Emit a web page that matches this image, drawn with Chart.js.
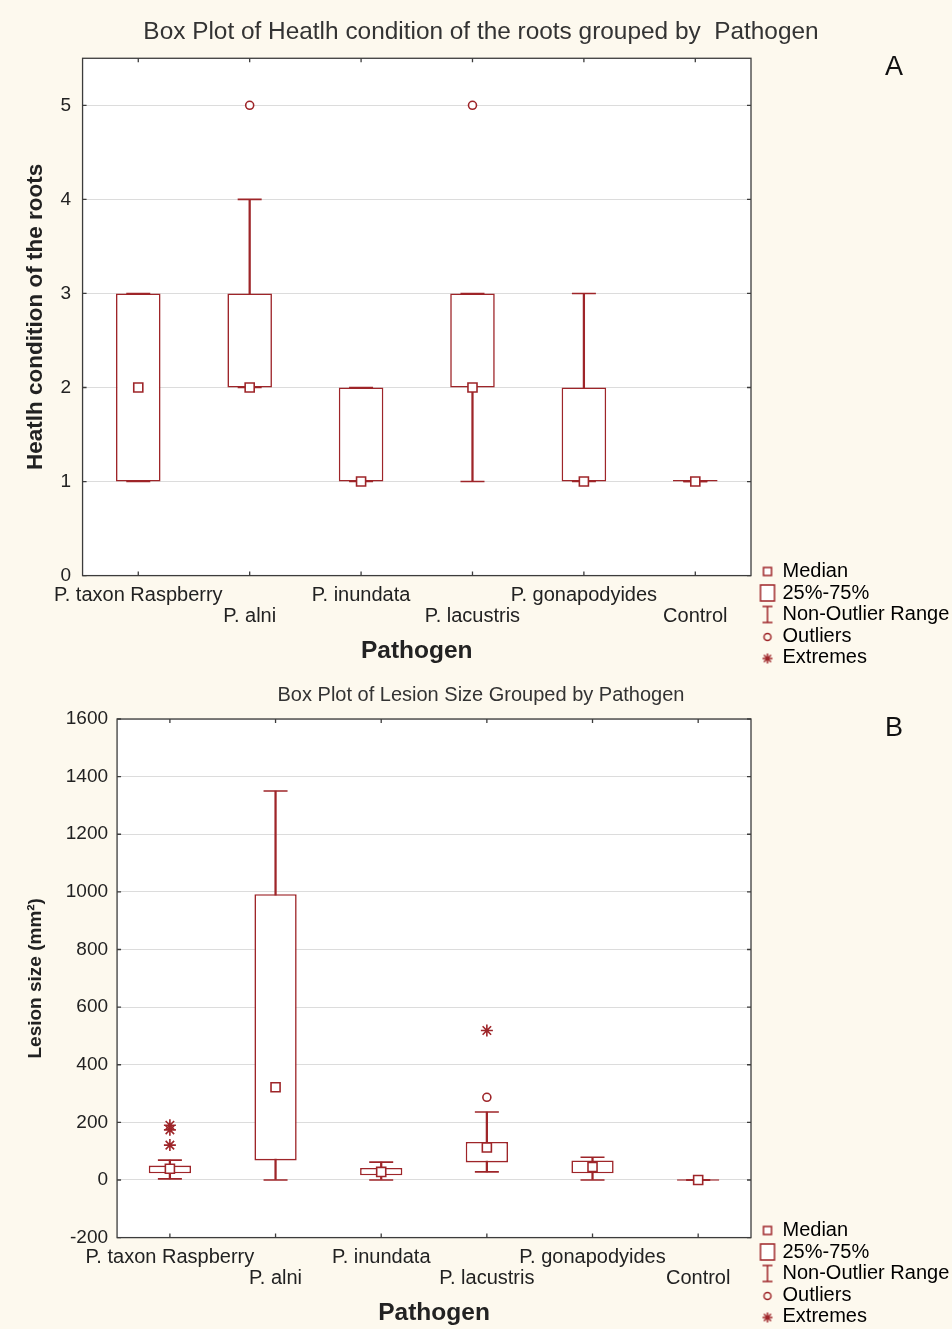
<!DOCTYPE html>
<html>
<head>
<meta charset="utf-8">
<title>Box plots by pathogen</title>
<script src="https://cdn.jsdelivr.net/npm/chart.js@4.4.0/dist/chart.umd.min.js"></script>
<style>
  body { margin: 0; background: #fdf9ee; width: 952px; height: 1329px; position: relative; overflow: hidden;
         font-family: "Liberation Sans", Arial, sans-serif; }
  .panel { position: absolute; left: 0; width: 952px; }
  #panelA { top: 0; height: 670px; }
  #panelB { top: 670px; height: 659px; }
  .tag { position: absolute; font-size: 27px; color: #111; }
</style>
</head>
<body>
<div class="panel" id="panelA"><canvas id="chartA"></canvas></div>
<div class="panel" id="panelB"><canvas id="chartB"></canvas></div>
<div class="tag" style="left:885px; top:51px;">A</div>
<div class="tag" style="left:885px; top:712px;">B</div>
<script>
var pathogens = ["P. taxon Raspberry", "P. alni", "P. inundata", "P. lacustris", "P. gonapodyides", "Control"];

// A - health condition of the roots
var rootLow      = [1, 2, 1, 1, 1, 1];
var rootQ1       = [1, 2, 1, 2, 1, 1];
var rootMedian   = [2, 2, 1, 2, 1, 1];
var rootQ3       = [3, 3, 2, 3, 2, 1];
var rootHigh     = [3, 4, 2, 3, 3, 1];
var rootOutliers = [[], [5], [], [5], [], []];
var rootExtremes = [[], [], [], [], [], []];
var rootTicks    = [0, 1, 2, 3, 4, 5];

// B - lesion size (mm2)
var lesionLow      = [4, 0, 0, 28, 0, 0];
var lesionQ1       = [23, 68, 16, 61, 23, 0];
var lesionMedian   = [39, 322, 28, 113, 45, 0];
var lesionQ3       = [50, 992, 42, 132, 68, 0];
var lesionHigh     = [69, 1350, 62, 236, 79, 0];
var lesionOutliers = [[], [], [], [287], [], []];
var lesionExtremes = [[190, 174, 121], [], [], [519], [], []];
var lesionTicks    = [-200, 0, 200, 400, 600, 800, 1000, 1200, 1400, 1600];

Chart.defaults.font.family = "'Liberation Sans', Arial, Helvetica, sans-serif";
Chart.defaults.color = '#222';

var RED = '#9e2529';

// legend icons, shifted right inside a wider canvas
function makeIcon(kind) {
  var c = document.createElement('canvas');
  c.width = 28; c.height = 20;
  var g = c.getContext('2d');
  g.translate(11, 0);
  g.strokeStyle = RED; g.fillStyle = '#fff'; g.lineWidth = 1.5;
  if (kind == 'median') {
    g.fillRect(4, 6, 8, 8); g.strokeRect(4, 6, 8, 8);
  } else if (kind == 'box') {
    g.fillRect(1, 2, 14, 16); g.strokeRect(1, 2, 14, 16);
  } else if (kind == 'range') {
    g.beginPath();
    g.moveTo(3, 2); g.lineTo(13, 2);
    g.moveTo(8, 2); g.lineTo(8, 18);
    g.moveTo(3, 18); g.lineTo(13, 18);
    g.stroke();
  } else if (kind == 'outlier') {
    g.beginPath(); g.arc(8, 11, 3.5, 0, Math.PI * 2); g.stroke();
  } else {
    g.beginPath();
    for (var k = 0; k < 4; k++) {
      var a = k * Math.PI / 4;
      g.moveTo(8 + Math.cos(a) * 5, 11 + Math.sin(a) * 5);
      g.lineTo(8 - Math.cos(a) * 5, 11 - Math.sin(a) * 5);
    }
    g.stroke();
  }
  return c;
}

var legendItems = [
  ['Median', makeIcon('median')],
  ['25%-75%', makeIcon('box')],
  ['Non-Outlier Range', makeIcon('range')],
  ['Outliers', makeIcon('outlier')],
  ['Extremes', makeIcon('extreme')]
];

// white plot area, dark frame and small inward ticks like the original
var framePlugin = {
  id: 'frame',
  beforeDraw: function (chart) {
    var a = chart.chartArea, g = chart.ctx;
    g.save();
    g.fillStyle = '#fff';
    g.fillRect(a.left, a.top, a.right - a.left, a.bottom - a.top);
    g.restore();
  },
  afterDatasetsDraw: function (chart) {
    var a = chart.chartArea, g = chart.ctx, xs = chart.scales.x, ys = chart.scales.y;
    g.save();
    g.strokeStyle = '#3c3c3c';
    g.lineWidth = 1.3;
    g.strokeRect(a.left, a.top, a.right - a.left, a.bottom - a.top);
    g.beginPath();
    xs.ticks.forEach(function (t, i) {
      var px = xs.getPixelForTick(i);
      g.moveTo(px, a.top); g.lineTo(px, a.top + 4);
      g.moveTo(px, a.bottom); g.lineTo(px, a.bottom - 4);
    });
    ys.ticks.forEach(function (t, i) {
      var py = ys.getPixelForTick(i);
      g.moveTo(a.left, py); g.lineTo(a.left + 4, py);
      g.moveTo(a.right, py); g.lineTo(a.right - 4, py);
    });
    g.stroke();
    g.restore();
  }
};

function points(lists) {
  var out = [];
  lists.forEach(function (vals, i) {
    vals.forEach(function (v) { out.push({ x: pathogens[i], y: v }); });
  });
  return out;
}

function boxChart(id, s) {
  var pointSet = function (data, style, radius, order) {
    return {
      type: 'line', data: data, showLine: false, order: order,
      pointStyle: style, pointRadius: radius, pointHoverRadius: radius,
      pointBackgroundColor: '#fff', pointBorderColor: RED, pointBorderWidth: 1.6
    };
  };
  return new Chart(document.getElementById(id), {
    type: 'bar',
    data: {
      labels: pathogens,
      datasets: [
        { // whiskers
          data: pathogens.map(function (p, i) { return [s.low[i], s.high[i]]; }),
          backgroundColor: RED, borderWidth: 0, barThickness: 1.6, grouped: false, order: 3
        },
        { // 25%-75% boxes
          data: pathogens.map(function (p, i) { return [s.q1[i], s.q3[i]]; }),
          backgroundColor: '#fff', borderColor: RED, borderWidth: 1.6, borderSkipped: false,
          barPercentage: 0.4, categoryPercentage: 1, minBarLength: 1.6, grouped: false, order: 2
        },
        pointSet(s.low, 'line', 12, 1),
        pointSet(s.high, 'line', 12, 1),
        pointSet(s.median, 'rect', 6.4, 0),
        pointSet(points(s.outliers), 'circle', 4, 0),
        pointSet(points(s.extremes), 'star', 6, 0)
      ]
    },
    options: {
      responsive: true,
      maintainAspectRatio: false,
      animation: false,
      layout: { padding: s.padding },
      plugins: {
        title: {
          display: true, text: s.title, color: '#333',
          font: { size: s.titleSize, weight: 'normal' }, padding: s.titlePad
        },
        tooltip: { enabled: false },
        legend: {
          position: 'right', align: 'end', onClick: null, maxWidth: 201,
          labels: {
            usePointStyle: true, boxWidth: 20, boxHeight: 14, padding: 1.5,
            font: { size: 20 }, color: '#222',
            generateLabels: function () {
              return legendItems.map(function (it) {
                return { text: it[0], pointStyle: it[1], fillStyle: '#fff', strokeStyle: RED, lineWidth: 0, hidden: false };
              });
            }
          }
        }
      },
      scales: {
        x: {
          grid: { display: false, drawTicks: false },
          border: { display: false },
          ticks: {
            autoSkip: false, maxRotation: 0, padding: 9.5, color: '#222',
            font: { size: 20, lineHeight: 1.05 },
            callback: function (v, i) { return i % 2 ? ['', pathogens[i]] : [pathogens[i], '']; }
          },
          title: { display: true, text: 'Pathogen', color: '#222', font: { size: 24.5, weight: 'bold' }, padding: s.xTitlePad }
        },
        y: {
          min: s.ticks[0], max: s.max,
          afterBuildTicks: function (axis) { axis.ticks = s.ticks.map(function (v) { return { value: v }; }); },
          grid: { color: '#dcdcdc', lineWidth: 1, drawTicks: false },
          border: { display: false },
          ticks: { padding: s.tickPad, color: '#222', font: { size: 19 }, callback: function (v) { return String(v); } },
          title: { display: true, text: s.yTitle, color: '#222', font: { size: s.yTitleSize, weight: 'bold' }, padding: s.yTitlePad }
        }
      }
    },
    plugins: [framePlugin]
  });
}

boxChart('chartA', {
  title: 'Box Plot of Heatlh condition of the roots grouped by  Pathogen', titleSize: 24.4,
  titlePad: { top: 18, bottom: 11 },
  yTitle: 'Heatlh condition of the roots', yTitleSize: 22.5, yTitlePad: { top: 12, bottom: 0 },
  tickPad: 11.5, xTitlePad: { top: 0, bottom: 3 },
  padding: { left: 10, right: 0, bottom: 1, top: 0 },
  low: rootLow, q1: rootQ1, median: rootMedian, q3: rootQ3, high: rootHigh,
  outliers: rootOutliers, extremes: rootExtremes, ticks: rootTicks, max: 5.5
});

boxChart('chartB', {
  title: 'Box Plot of Lesion Size Grouped by Pathogen', titleSize: 20,
  titlePad: { top: 13, bottom: 12 },
  yTitle: 'Lesion size (mm²)', yTitleSize: 19, yTitlePad: { top: 14, bottom: 10 },
  tickPad: 9, xTitlePad: { top: 0, bottom: 0 },
  padding: { left: 10, right: 0, bottom: 1, top: 0 },
  low: lesionLow, q1: lesionQ1, median: lesionMedian, q3: lesionQ3, high: lesionHigh,
  outliers: lesionOutliers, extremes: lesionExtremes, ticks: lesionTicks, max: 1600
});
</script>
</body>
</html>
